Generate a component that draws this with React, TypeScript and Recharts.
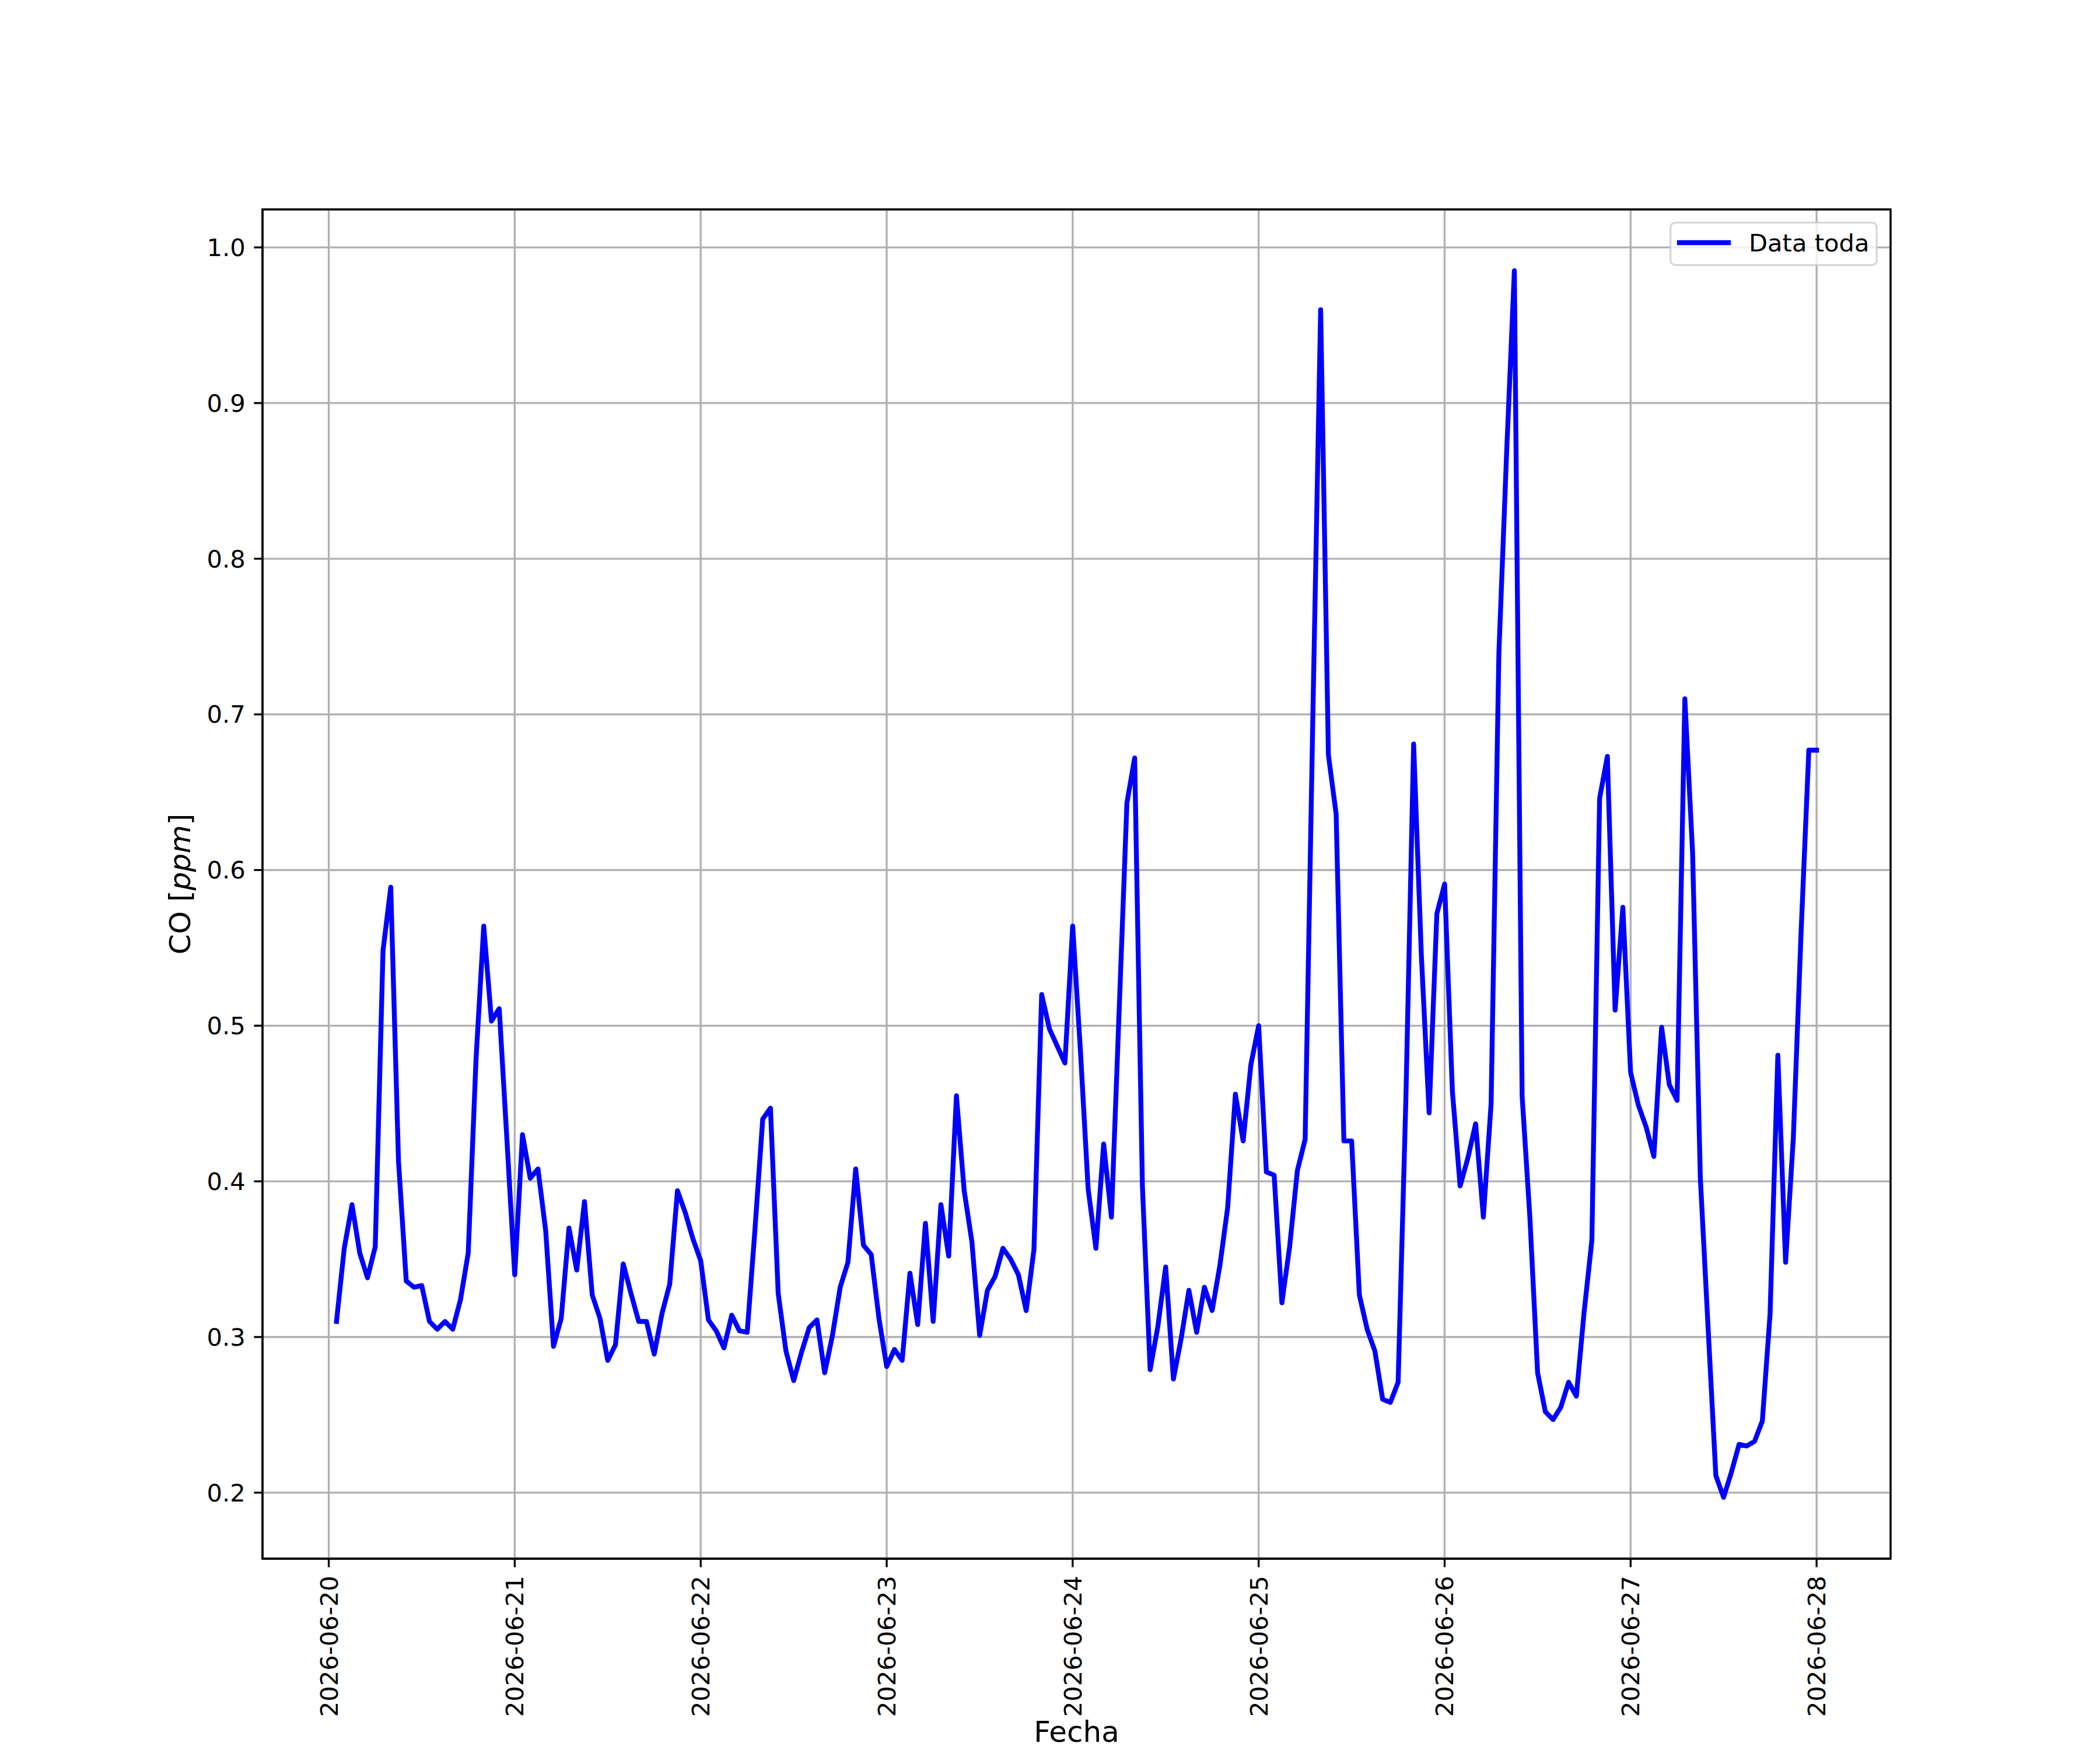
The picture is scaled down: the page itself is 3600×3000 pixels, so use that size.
import React from 'react';
import {
  LineChart,
  Line,
  XAxis,
  YAxis,
  CartesianGrid,
  Legend,
  Label,
  ReferenceArea,
} from 'recharts';

// CO hourly readings (ppm), one array per day; 2026-06-20 starts at 01:00
const dia20 = [0.310, 0.357, 0.385, 0.354, 0.338, 0.358, 0.548, 0.589, 0.413, 0.336, 0.332, 0.333, 0.310, 0.305, 0.310, 0.305, 0.324, 0.354, 0.478, 0.564, 0.503, 0.511, 0.426];
const dia21 = [0.340, 0.430, 0.402, 0.408, 0.368, 0.294, 0.312, 0.370, 0.343, 0.387, 0.327, 0.312, 0.285, 0.295, 0.347, 0.328, 0.310, 0.310, 0.289, 0.315, 0.334, 0.394, 0.380, 0.363];
const dia22 = [0.349, 0.311, 0.304, 0.293, 0.314, 0.304, 0.303, 0.369, 0.440, 0.447, 0.328, 0.291, 0.272, 0.290, 0.306, 0.311, 0.277, 0.301, 0.332, 0.348, 0.408, 0.359, 0.353, 0.312];
const dia23 = [0.281, 0.292, 0.285, 0.341, 0.308, 0.373, 0.310, 0.385, 0.352, 0.455, 0.394, 0.361, 0.301, 0.330, 0.339, 0.357, 0.350, 0.340, 0.317, 0.356, 0.520, 0.498, 0.487, 0.476];
const dia24 = [0.564, 0.484, 0.395, 0.357, 0.424, 0.377, 0.510, 0.643, 0.672, 0.397, 0.279, 0.307, 0.345, 0.273, 0.299, 0.330, 0.303, 0.332, 0.317, 0.346, 0.383, 0.456, 0.426, 0.475];
const dia25 = [0.500, 0.406, 0.404, 0.322, 0.358, 0.407, 0.427, 0.700, 0.960, 0.674, 0.636, 0.426, 0.426, 0.327, 0.305, 0.291, 0.260, 0.258, 0.271, 0.453, 0.681, 0.545, 0.444, 0.572];
const dia26 = [0.591, 0.458, 0.397, 0.415, 0.437, 0.377, 0.450, 0.739, 0.868, 0.985, 0.455, 0.377, 0.277, 0.252, 0.247, 0.255, 0.271, 0.262, 0.316, 0.362, 0.646, 0.673, 0.510, 0.576];
const dia27 = [0.470, 0.449, 0.435, 0.416, 0.499, 0.462, 0.452, 0.710, 0.611, 0.402, 0.306, 0.211, 0.197, 0.213, 0.231, 0.230, 0.233, 0.246, 0.315, 0.481, 0.348, 0.428, 0.560, 0.677];
const dia28 = [0.677];

const dias = [dia20, dia21, dia22, dia23, dia24, dia25, dia26, dia27, dia28];
const primeraHora = [1, 0, 0, 0, 0, 0, 0, 0, 0];

const fechas = [
  '2026-06-20', '2026-06-21', '2026-06-22', '2026-06-23', '2026-06-24',
  '2026-06-25', '2026-06-26', '2026-06-27', '2026-06-28',
];
const xTicks = [0, 1, 2, 3, 4, 5, 6, 7, 8];
const yTicks = [0.2, 0.3, 0.4, 0.5, 0.6, 0.7, 0.8, 0.9, 1.0];

// t = days since 2026-06-20 00:00
const data = dias.flatMap((vals, d) =>
  vals.map((co, k) => ({ t: d + (k + primeraHora[d]) / 24, co }))
);

const FONT = 'DejaVu Sans';
const PT = 300 / 72;
const TICK_FS = 10 * PT;
const LABEL_FS = 12 * PT;
const GRID = '#b0b0b0';

function FechaTick({ x, y, payload }: any) {
  return (
    <g transform={`translate(${x},${y}) rotate(-90)`}>
      <text x={0} y={0} dy={15} textAnchor="end" fill="#000" fontSize={TICK_FS} fontFamily={FONT}>
        {fechas[payload.value]}
      </text>
    </g>
  );
}

function YLabel({ viewBox }: any) {
  const cy = viewBox.y + viewBox.height / 2;
  const cx = 326;
  return (
    <text
      x={cx}
      y={cy}
      transform={`rotate(-90, ${cx}, ${cy})`}
      textAnchor="middle"
      fontSize={LABEL_FS}
      fontFamily={FONT}
      fill="#000"
    >
      CO [<tspan fontStyle="italic">ppm</tspan>]
    </text>
  );
}

function XLabel({ viewBox }: any) {
  const cx = viewBox.x + viewBox.width / 2;
  return (
    <text x={cx} y={2986} textAnchor="middle" fontSize={LABEL_FS} fontFamily={FONT} fill="#000">
      Fecha
    </text>
  );
}

function LegendBox() {
  const lw = 0.8 * PT;
  return (
    <svg width={360} height={80} style={{ display: 'block', overflow: 'visible' }}>
      <rect
        x={lw / 2}
        y={lw / 2}
        width={357 - lw}
        height={76 - lw}
        rx={8.3}
        ry={8.3}
        fill="rgba(255,255,255,0.8)"
        stroke="rgba(204,204,204,0.8)"
        strokeWidth={lw}
      />
      <line x1={17} x2={101} y1={36} y2={36} stroke="#0000ff" strokeWidth={2 * PT} strokeLinecap="square" />
      <text x={136} y={51} fontSize={TICK_FS} fontFamily={FONT} fill="#000">
        Data toda
      </text>
    </svg>
  );
}

export default function App() {
  return (
    <div style={{ position: 'absolute', left: 0, top: 0, width: 3600, height: 3000, background: '#fff' }}>
      <LineChart
        width={3600}
        height={3000}
        data={data}
        margin={{ top: 359, right: 359, bottom: 0, left: 0 }}
        style={{ fontFamily: FONT }}
      >
        <CartesianGrid stroke={GRID} strokeWidth={0.8 * PT} />
        <XAxis
          dataKey="t"
          type="number"
          domain={[-0.35625, 8.397917]}
          allowDataOverflow
          ticks={xTicks}
          height={328}
          tickSize={3.5 * PT}
          tickMargin={3.5 * PT}
          tickLine={{ stroke: '#000', strokeWidth: 0.8 * PT }}
          axisLine={{ stroke: '#000', strokeWidth: 0.8 * PT }}
          tick={<FechaTick />}
          interval={0}
        >
          <Label content={<XLabel />} />
        </XAxis>
        <YAxis
          type="number"
          domain={[0.1576, 1.0244]}
          allowDataOverflow
          ticks={yTicks}
          width={450}
          tickSize={3.5 * PT}
          tickMargin={3.5 * PT}
          tickFormatter={(v: number) => v.toFixed(1)}
          tickLine={{ stroke: '#000', strokeWidth: 0.8 * PT }}
          axisLine={{ stroke: '#000', strokeWidth: 0.8 * PT }}
          tick={{ fill: '#000', fontSize: TICK_FS, fontFamily: FONT }}
          interval={0}
        >
          <Label content={<YLabel />} />
        </YAxis>
        <Line
          type="linear"
          dataKey="co"
          name="Data toda"
          stroke="#0000ff"
          strokeWidth={2 * PT}
          strokeLinejoin="round"
          strokeLinecap="square"
          dot={false}
          activeDot={false}
          isAnimationActive={false}
        />
        <ReferenceArea
          x1={-0.35625}
          x2={8.397917}
          y1={0.1576}
          y2={1.0244}
          fill="none"
          stroke="#000"
          strokeWidth={0.8 * PT}
          ifOverflow="visible"
        />
        <Legend
          layout="horizontal"
          verticalAlign="middle"
          align="center"
          content={<LegendBox />}
          wrapperStyle={{ left: 2862, top: 380, width: 360, height: 80 }}
        />
      </LineChart>
    </div>
  );
}
